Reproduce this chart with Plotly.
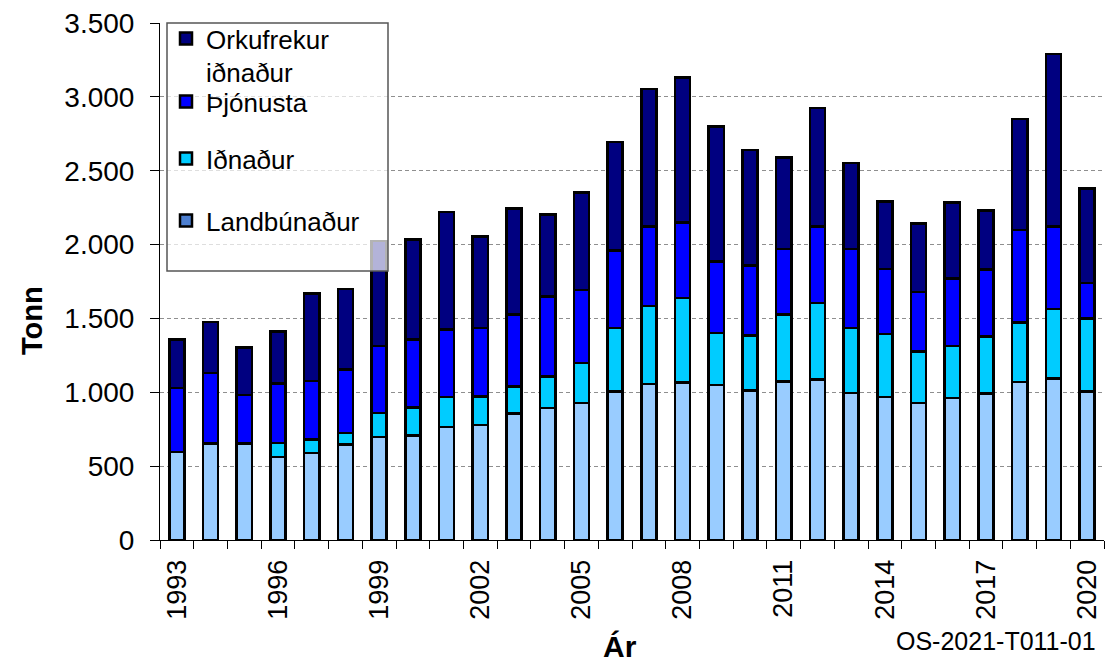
import plotly.graph_objects as go

years = list(range(1993, 2021))
landbunadur = [595, 653, 653, 563, 588, 646, 698, 709, 766, 777, 858, 894, 928, 1007,
               1056, 1067, 1049, 1013, 1074, 1085, 995, 968, 928, 962, 991, 1070, 1092, 1007]
idnadur = [0, 0, 0, 95, 92, 79, 162, 187, 202, 196, 182, 214, 270, 427,
           529, 572, 352, 370, 451, 518, 439, 428, 349, 353, 387, 403, 473, 493]
thjonusta = [434, 478, 329, 403, 396, 430, 453, 460, 457, 461, 485, 540, 496, 527,
             536, 512, 484, 475, 445, 518, 536, 437, 401, 457, 453, 626, 559, 239]
orkufrekur = [329, 344, 320, 351, 593, 543, 711, 680, 795, 622, 720, 557, 659, 732,
              933, 979, 916, 781, 618, 804, 582, 457, 464, 514, 398, 752, 1166, 641]

label_years = years[::3]
boundaries = [y - 0.5 for y in years] + [years[-1] + 0.5]

# page layout (the browser adds an 8px body margin around the figure)
OFF = 8
W, H = 1117 - OFF, 668 - OFF
P_L, P_R, P_T, P_B = 160, 1104, 23, 540   # plot area in page pixels
ML, MR, MT, MB = P_L - OFF, OFF + W - P_R, P_T - OFF, OFF + H - P_B


def px(x):
    return (x - P_L) / (P_R - P_L)


def py(y):
    return (P_B - y) / (P_B - P_T)


FONT = "Liberation Sans, Arial, sans-serif"
line = dict(color="black", width=2.5)

fig = go.Figure()
fig.add_trace(go.Bar(x=years, y=landbunadur, name="Landbúnaður",
                     marker=dict(color="#99CCFF", line=line), showlegend=False))
fig.add_trace(go.Bar(x=years, y=idnadur, name="Iðnaður", legend="legend3",
                     marker=dict(color="#00CCFF", line=line)))
fig.add_trace(go.Bar(x=years, y=thjonusta, name="Þjónusta", legend="legend2",
                     marker=dict(color="#0000FF", line=line)))
fig.add_trace(go.Bar(x=years, y=orkufrekur, name="Orkufrekur<br>iðnaður", legend="legend",
                     marker=dict(color="#000080", line=line)))
# legend-only entry for Landbúnaður (legend swatch colour differs from bar colour in the original)
fig.add_trace(go.Bar(x=[None], y=[None], name="Landbúnaður", legend="legend4",
                     marker=dict(color="#4D7FD0", line=line), showlegend=True))

LEG_X = 166
item_centres = [40, 103, 160, 222]


def leg(cy):
    return dict(x=px(LEG_X), y=py(cy - 25), xanchor="left", yanchor="top", valign="top",
                bgcolor="rgba(0,0,0,0)", borderwidth=0, font=dict(size=26, family=FONT))


fig.update_layout(
    width=W, height=H,
    margin=dict(l=ML, r=MR, t=MT, b=MB, autoexpand=False),
    barmode="stack", bargap=0.55,
    plot_bgcolor="white", paper_bgcolor="white",
    separators=",.",
    font=dict(family=FONT, size=26, color="black"),
    xaxis=dict(type="linear", range=[years[0] - 0.5, years[-1] + 0.5], automargin=False,
               tickvals=label_years, ticktext=[str(y) for y in label_years],
               tickangle=-90, ticks="", showgrid=False, zeroline=False,
               showline=True, linecolor="black", linewidth=1,
               ticklabelstandoff=8, ticklabeloverflow="allow",
               minor=dict(tickvals=boundaries, ticks="outside", ticklen=8, tickcolor="black", showgrid=False),
               tickfont=dict(size=27)),
    yaxis=dict(range=[0, 3500], dtick=500, tick0=0, tickformat=",d", automargin=False,
               showgrid=True, gridcolor="#8f8f8f", griddash="4px,3px", gridwidth=1,
               ticks="outside", ticklen=9, tickcolor="black", ticklabeloverflow="allow",
               ticklabelstandoff=10,
               showline=True, linecolor="black", linewidth=1, zeroline=False,
               tickfont=dict(size=28)),
    legend=leg(item_centres[0]),
    legend2=leg(item_centres[1]),
    legend3=leg(item_centres[2]),
    legend4=leg(item_centres[3]),
    shapes=[dict(type="rect", xref="paper", yref="paper",
                 x0=px(167), x1=px(388), y0=py(271), y1=py(23),
                 fillcolor="rgba(255,255,255,0.7)", line=dict(color="#555555", width=1.5),
                 layer="above")],
    annotations=[
        dict(text="<b>Tonn</b>", xref="paper", yref="paper", x=px(32), y=py(321),
             textangle=-90, showarrow=False, font=dict(size=29), xanchor="center", yanchor="middle"),
        dict(text="<b>Ár</b>", xref="paper", yref="paper", x=px(620), y=py(646),
             showarrow=False, font=dict(size=30), xanchor="center", yanchor="middle"),
        dict(text="OS-2021-T011-01", xref="paper", yref="paper", x=px(996), y=py(641),
             showarrow=False, font=dict(size=25), xanchor="center", yanchor="middle"),
    ],
)

fig.write_html("out.html")
